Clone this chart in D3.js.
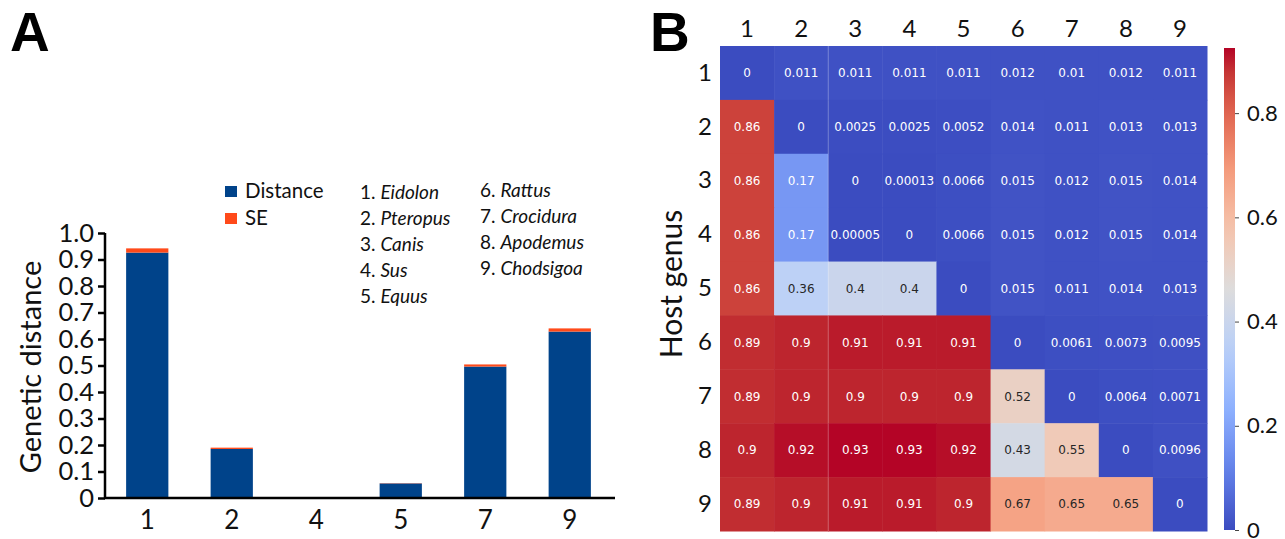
<!DOCTYPE html>
<html>
<head>
<meta charset="utf-8">
<script src="https://cdn.jsdelivr.net/npm/d3@7/dist/d3.min.js"></script>
<style>
  html, body { margin: 0; padding: 0; background: #fff; }
  svg { display: block; }
</style>
</head>
<body>
<svg id="chart" width="1285" height="539"></svg>
<script>
// ---------- Panel A data ----------
const barCategories = ["1", "2", "4", "5", "7", "9"];
const distanceValues = [0.926, 0.185, 0, 0.055, 0.496, 0.628];
const seValues = [0.016, 0.005, 0, 0.001, 0.008, 0.012];
const yTicksA = [0, 0.1, 0.2, 0.3, 0.4, 0.5, 0.6, 0.7, 0.8, 0.9, 1.0];
const legendSeries = ["Distance", "SE"];
const genusNumbers = ["1", "2", "3", "4", "5", "6", "7", "8", "9"];
const genusNames = ["Eidolon", "Pteropus", "Canis", "Sus", "Equus", "Rattus", "Crocidura", "Apodemus", "Chodsigoa"];

// ---------- Panel B data ----------
const heatRows = ["1", "2", "3", "4", "5", "6", "7", "8", "9"];
const heatCols = ["1", "2", "3", "4", "5", "6", "7", "8", "9"];
const heatValues = [
  [0, 0.011, 0.011, 0.011, 0.011, 0.012, 0.01, 0.012, 0.011],
  [0.86, 0, 0.0025, 0.0025, 0.0052, 0.014, 0.011, 0.013, 0.013],
  [0.86, 0.17, 0, 0.00013, 0.0066, 0.015, 0.012, 0.015, 0.014],
  [0.86, 0.17, 0.00005, 0, 0.0066, 0.015, 0.012, 0.015, 0.014],
  [0.86, 0.36, 0.4, 0.4, 0, 0.015, 0.011, 0.014, 0.013],
  [0.89, 0.9, 0.91, 0.91, 0.91, 0, 0.0061, 0.0073, 0.0095],
  [0.89, 0.9, 0.9, 0.9, 0.9, 0.52, 0, 0.0064, 0.0071],
  [0.9, 0.92, 0.93, 0.93, 0.92, 0.43, 0.55, 0, 0.0096],
  [0.89, 0.9, 0.91, 0.91, 0.9, 0.67, 0.65, 0.65, 0]
];
const colorbarTicks = [0, 0.2, 0.4, 0.6, 0.8];
const colorMax = 0.925;

const svg = d3.select("#chart");
const FONT = "Lato, 'Open Sans', sans-serif";
const BOLDFONT = "'Liberation Sans', Arial, sans-serif";

// ================= Panel A =================
const colDist = "#00438a";
const colSE = "#ff4a1a";

const x = d3.scaleBand().domain(barCategories).range([105, 612]).paddingInner(0.5).paddingOuter(0.25);
const y = d3.scaleLinear().domain([0, 1]).range([498, 233]);

const gA = svg.append("g");

const barData = barCategories.map((c, i) => ({ c, d: distanceValues[i], s: seValues[i] }));
gA.selectAll("rect.dist").data(barData).join("rect")
  .attr("class", "dist")
  .attr("x", d => x(d.c)).attr("width", x.bandwidth())
  .attr("y", d => y(d.d)).attr("height", d => y(0) - y(d.d))
  .attr("fill", colDist);
gA.selectAll("rect.se").data(barData).join("rect")
  .attr("class", "se")
  .attr("x", d => x(d.c)).attr("width", x.bandwidth())
  .attr("y", d => y(d.d + d.s)).attr("height", d => y(d.d) - y(d.d + d.s))
  .attr("fill", colSE);

// y axis
const yAxis = gA.append("g").attr("transform", "translate(105,0)")
  .call(d3.axisLeft(y).tickValues(yTicksA).tickSize(7).tickPadding(4)
    .tickFormat(d => d === 0 ? "0" : d.toFixed(1)));
yAxis.select(".domain").attr("stroke", "#000").attr("stroke-width", 2.5).attr("d", "M0,233V498");
yAxis.selectAll(".tick line").attr("stroke", "#000").attr("stroke-width", 2.5);
yAxis.selectAll(".tick text").attr("font-family", FONT).attr("font-size", 25.5).attr("fill", "#111");

// x axis
const xAxis = gA.append("g").attr("transform", "translate(0,498)")
  .call(d3.axisBottom(x).tickSize(0).tickPadding(13));
xAxis.select(".domain").attr("stroke", "#000").attr("stroke-width", 2.5).attr("d", "M104,0H615");
xAxis.selectAll(".tick text").attr("font-family", FONT).attr("font-size", 26).attr("fill", "#111");

// y label
gA.append("text")
  .attr("transform", "translate(41,367) rotate(-90)")
  .attr("text-anchor", "middle")
  .attr("font-family", FONT).attr("font-size", 29).attr("fill", "#111")
  .text("Genetic distance");

// legend
const legColors = [colDist, colSE];
legendSeries.forEach((name, i) => {
  gA.append("rect").attr("x", 225).attr("y", 186 + i * 27).attr("width", 12).attr("height", 11).attr("fill", legColors[i]);
  gA.append("text").attr("x", 245).attr("y", 198 + i * 27)
    .attr("font-family", FONT).attr("font-size", 20.5).attr("fill", "#111").text(name);
});

// genus list
genusNames.forEach((name, i) => {
  const col = i < 5 ? 0 : 1;
  const row = i < 5 ? i : i - 5;
  const t = gA.append("text")
    .attr("x", col === 0 ? 360 : 480)
    .attr("y", (col === 0 ? 199 : 197) + row * 26)
    .attr("font-family", FONT).attr("font-size", 19).attr("fill", "#111");
  t.append("tspan").text(genusNumbers[i] + ". ");
  t.append("tspan").attr("font-style", "italic").text(name);
});

// panel label A
svg.append("text").attr("x", 10).attr("y", 51)
  .attr("font-family", BOLDFONT).attr("font-weight", 700)
  .attr("font-size", 55).attr("fill", "#000").text("A");

// ================= Panel B =================
const coolwarmStops = ["#3b4cc0", "#6282ea", "#8db0fe", "#b8d0f9", "#dddcdc", "#f5c4ad", "#f49a7b", "#de604d", "#b40426"];
const cwInterp = d3.piecewise(d3.interpolateLab, coolwarmStops);
const color = d3.scaleSequential(v => cwInterp(Math.max(0, Math.min(1, v)))).domain([0, colorMax]);

const hx = d3.scaleBand().domain(heatCols).range([720, 1207]);
const hy = d3.scaleBand().domain(heatRows).range([46, 531]);

function textColor(c) {
  const rgb = d3.rgb(c);
  const lin = v => { v /= 255; return v <= 0.03928 ? v / 12.92 : Math.pow((v + 0.055) / 1.055, 2.4); };
  const lum = 0.2126 * lin(rgb.r) + 0.7152 * lin(rgb.g) + 0.0722 * lin(rgb.b);
  return lum > 0.408 ? "#262626" : "#ffffff";
}

const cells = [];
heatRows.forEach((r, i) => heatCols.forEach((c, j) => cells.push({ r, c, v: heatValues[i][j] })));

const gB = svg.append("g");
gB.selectAll("rect.cell").data(cells).join("rect")
  .attr("class", "cell")
  .attr("x", d => hx(d.c)).attr("y", d => hy(d.r))
  .attr("width", hx.bandwidth() + 0.5).attr("height", hy.bandwidth() + 0.5)
  .attr("fill", d => color(d.v));
gB.selectAll("text.cell").data(cells).join("text")
  .attr("class", "cell")
  .attr("x", d => hx(d.c) + hx.bandwidth() / 2)
  .attr("y", d => hy(d.r) + hy.bandwidth() / 2)
  .attr("dy", "0.36em")
  .attr("text-anchor", "middle")
  .attr("font-family", "'DejaVu Sans', sans-serif").attr("font-size", 12)
  .attr("fill", d => textColor(color(d.v)))
  .text(d => String(d.v));

// faint artifact line
gB.append("line").attr("x1", hx("3")).attr("x2", hx("3")).attr("y1", 46).attr("y2", 531)
  .attr("stroke", "#ffffff").attr("stroke-opacity", 0.25).attr("stroke-width", 1);

// column labels
const topAxis = gB.append("g").attr("transform", "translate(0,46)")
  .call(d3.axisTop(hx).tickSize(0).tickPadding(9));
topAxis.select(".domain").remove();
topAxis.selectAll(".tick text").attr("font-family", FONT).attr("font-size", 24).attr("fill", "#111");

// row labels
const leftAxis = gB.append("g").attr("transform", "translate(720,0)")
  .call(d3.axisLeft(hy).tickSize(0).tickPadding(8));
leftAxis.select(".domain").remove();
leftAxis.selectAll(".tick text").attr("font-family", FONT).attr("font-size", 24).attr("fill", "#111");

// y title
gB.append("text")
  .attr("transform", "translate(682,284) rotate(-90)")
  .attr("text-anchor", "middle")
  .attr("font-family", FONT).attr("font-size", 30).attr("fill", "#111")
  .text("Host genus");

// colorbar
const cbScale = d3.scaleLinear().domain([0, colorMax]).range([530, 48]);
const defs = svg.append("defs");
const grad = defs.append("linearGradient").attr("id", "cbgrad")
  .attr("x1", "0").attr("y1", "1").attr("x2", "0").attr("y2", "0");
d3.range(0, 1.0001, 0.05).forEach(t => {
  grad.append("stop").attr("offset", t).attr("stop-color", color(t * colorMax));
});
gB.append("rect").attr("x", 1224).attr("y", 48).attr("width", 11).attr("height", 482)
  .attr("fill", "url(#cbgrad)");
const cbAxis = gB.append("g").attr("transform", "translate(1235,0)")
  .call(d3.axisRight(cbScale).tickValues(colorbarTicks).tickSize(4).tickPadding(8)
    .tickFormat(d => d === 0 ? "0" : d.toFixed(1)));
cbAxis.select(".domain").remove();
cbAxis.selectAll(".tick line").attr("stroke", "#444").attr("stroke-width", 1);
cbAxis.selectAll(".tick text").attr("font-family", FONT).attr("font-size", 22).attr("fill", "#111");

// panel label B
svg.append("text").attr("x", 650).attr("y", 51)
  .attr("font-family", BOLDFONT).attr("font-weight", 700)
  .attr("font-size", 55).attr("fill", "#000").text("B");
</script>
</body>
</html>
